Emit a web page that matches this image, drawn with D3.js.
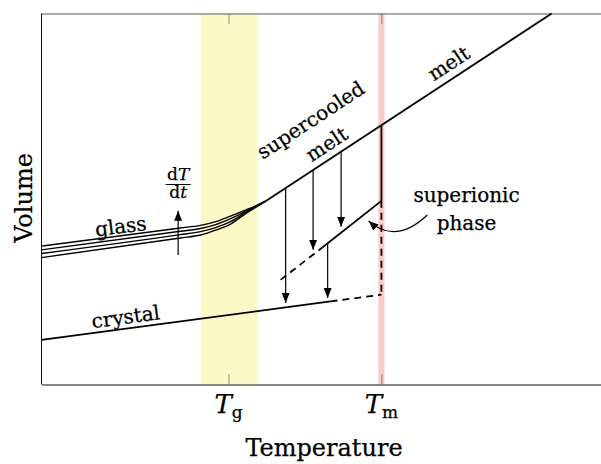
<!DOCTYPE html>
<html>
<head>
<meta charset="utf-8">
<script src="https://cdn.jsdelivr.net/npm/d3@7"></script>
<style>
  body { margin: 0; background: #fff; }
  svg { display: block; font-family: "DejaVu Serif", serif; }
  svg text { fill: #000; stroke: #000; stroke-width: 0.25; }
  .curve { fill: none; stroke: #000; stroke-width: 1.8; }
  .glass { stroke-width: 1.4; }
  .dash { stroke-dasharray: 7 5; }
  .arrow { fill: none; stroke: #000; stroke-width: 1.2; }
  .lbl { font-size: 20px; }
</style>
</head>
<body>
<svg width="601" height="464"></svg>
<script>
// characteristic temperatures and their shaded bands (x units)
const tg = 33.4, tm = 60.7;
const glassBand = [28.4, 38.6];
const meltBand = [60.15, 61.25];

// glass curves for four cooling rates
const glassT = [0, 24.8, 28.4, 31.1, 33.75, 36.4, 38.6, 40];
const glassV = [
    [37.3, 42.2, 42.9, 43.9, 45.4, 47.0, 48.4, 49.4],
    [36.3, 41.3, 42.05, 43.1, 44.7, 46.65, 48.25, 49.4],
    [35.3, 40.4, 41.2, 42.3, 43.9, 46.3, 48.15, 49.4],
    [34.2, 39.5, 40.3, 41.6, 43.25, 46.0, 48.05, 49.4]
];

// (supercooled) melt
const meltT = [40, 91.1];
const meltV = [49.4, 100];

// crystal, solid then dashed to Tm
const crystalT = [0, 51.6];
const crystalV = [12.0, 22.4];
const crystalDashT = [51.6, tm];
const crystalDashV = [22.4, 24.2];

// superionic phase
const superT = [50.2, tm];
const superV = [37.0, 49.5];
const superDashT = [42.7, 50.2];
const superDashV = [28.2, 37.0];

// jumps at Tm
const tmSolidV = [69.9, 49.5];
const tmDashV = [49.5, 24.2];

// crystallisation arrows: [T, from V, to V]
const drops = [
    [43.6, 52.9, 22.0],
    [48.5, 57.8, 36.3],
    [53.5, 62.8, 42.5],
    [51.1, 38.1, 23.3]
];

// cooling rate arrow
const rateArrow = [24.4, 34.9, 46.8];

// curved pointer to the superionic line: start, control, end
const pointer = [[68.9, 45.7], [63.2, 37.6], [58.4, 44.1]];

// labels: [text, T, V, rotation]
const labels = [
    ['glass', 14.3, 40.8, -7.3],
    ['crystal', 15.2, 16.4, -7.6],
    ['supercooled', 48.75, 69.7, -33.3],
    ['melt', 51.6, 63.2, -33.3],
    ['melt', 73.4, 85.0, -33.3],
    ['superionic', 75.9, 49.2, 0],
    ['phase', 75.9, 41.6, 0]
];

var svg = d3.select('svg');
var x = d3.scaleLinear().domain([0, 100]).range([41.5, 601.5]);
var y = d3.scaleLinear().domain([0, 100]).range([384.5, 13.5]);

var defs = svg.append('defs');
defs.append('marker')
    .attr('id', 'head')
    .attr('viewBox', '0 0 10 8')
    .attr('refX', 10).attr('refY', 4)
    .attr('markerWidth', 10).attr('markerHeight', 8)
    .attr('markerUnits', 'userSpaceOnUse')
    .attr('orient', 'auto')
    .append('path').attr('d', 'M0,0L10,4L0,8z').attr('fill', '#000');

// bands
svg.append('rect')
    .attr('x', x(glassBand[0])).attr('y', y(100))
    .attr('width', x(glassBand[1]) - x(glassBand[0]))
    .attr('height', y(0) - y(100))
    .attr('fill', '#fcf9c6');
svg.append('rect')
    .attr('x', x(meltBand[0])).attr('y', y(100))
    .attr('width', x(meltBand[1]) - x(meltBand[0]))
    .attr('height', y(0) - y(100))
    .attr('fill', '#fbcaca');

// axes with inward ticks
var bottomAxis = svg.append('g')
    .attr('transform', 'translate(0,' + y(0) + ')')
    .call(d3.axisBottom(x).tickValues([tg, tm]).tickSize(-10.5).tickSizeOuter(0).tickFormat(''));
var topAxis = svg.append('g')
    .attr('transform', 'translate(0,' + y(100) + ')')
    .call(d3.axisTop(x).tickValues([tg, tm]).tickSize(-10.5).tickSizeOuter(0).tickFormat(''));
svg.selectAll('.tick line').attr('stroke', '#888');
bottomAxis.select('.domain').attr('stroke', '#111');
topAxis.select('.domain').attr('stroke', '#555');
svg.append('line')
    .attr('x1', x(0)).attr('x2', x(0))
    .attr('y1', y(0)).attr('y2', y(100))
    .attr('stroke', '#111');

// tick labels T_g, T_m
[[tg, 'g'], [tm, 'm']].forEach(function(t) {
    var txt = svg.append('text')
        .attr('x', x(t[0])).attr('y', 412.5)
        .attr('text-anchor', 'middle')
        .style('font-size', '26px');
    txt.append('tspan').style('font-style', 'italic').text('T');
    txt.append('tspan').attr('dy', 5).style('font-size', '17px').text(t[1]);
});

var line = d3.line()
    .x(function(d) {return x(d[0]);})
    .y(function(d) {return y(d[1]);});
var smooth = d3.line()
    .curve(d3.curveMonotoneX)
    .x(function(d) {return x(d[0]);})
    .y(function(d) {return y(d[1]);});
var zip = function(a, b) {return a.map(function(v, i) {return [v, b[i]];});};

glassV.forEach(function(vs) {
    svg.append('path').attr('class', 'curve glass').attr('d', smooth(zip(glassT, vs)));
});
svg.append('path').attr('class', 'curve').attr('d', line(zip(meltT, meltV)));
svg.append('path').attr('class', 'curve').attr('d', line(zip(crystalT, crystalV)));
svg.append('path').attr('class', 'curve dash').attr('d', line(zip(crystalDashT, crystalDashV)));
svg.append('path').attr('class', 'curve').attr('d', line(zip(superT, superV)));
svg.append('path').attr('class', 'curve dash').attr('d', line(zip(superDashT, superDashV)));
svg.append('path').attr('class', 'curve').attr('d', line([[tm, tmSolidV[0]], [tm, tmSolidV[1]]]));
svg.append('path').attr('class', 'curve dash').attr('d', line([[tm, tmDashV[0]], [tm, tmDashV[1]]]));

// arrows
drops.forEach(function(a) {
    svg.append('path').attr('class', 'arrow')
        .attr('marker-end', 'url(#head)')
        .attr('d', line([[a[0], a[1]], [a[0], a[2]]]));
});
svg.append('path').attr('class', 'arrow')
    .attr('marker-end', 'url(#head)')
    .attr('d', line([[rateArrow[0], rateArrow[1]], [rateArrow[0], rateArrow[2]]]));

var p = d3.path();
p.moveTo(x(pointer[0][0]), y(pointer[0][1]));
p.quadraticCurveTo(x(pointer[1][0]), y(pointer[1][1]), x(pointer[2][0]), y(pointer[2][1]));
svg.append('path').attr('class', 'arrow').attr('marker-end', 'url(#head)').attr('d', p.toString());

// dT/dt
var fx = x(rateArrow[0]);
var num = svg.append('text').attr('x', fx).attr('y', 179.5).attr('text-anchor', 'middle').style('font-size', '17px');
num.append('tspan').text('d');
num.append('tspan').style('font-style', 'italic').text('T');
svg.append('line').attr('x1', fx - 12.5).attr('x2', fx + 12.5)
    .attr('y1', 184.5).attr('y2', 184.5).attr('stroke', '#000').attr('stroke-width', 1);
var den = svg.append('text').attr('x', fx).attr('y', 198).attr('text-anchor', 'middle').style('font-size', '17px');
den.append('tspan').text('d');
den.append('tspan').style('font-style', 'italic').text('t');

// curve labels
labels.forEach(function(l) {
    svg.append('text').attr('class', 'lbl')
        .attr('text-anchor', 'middle')
        .attr('transform', 'translate(' + x(l[1]) + ',' + y(l[2]) + ') rotate(' + l[3] + ')')
        .text(l[0]);
});

// axis titles
svg.append('text')
    .attr('x', 324).attr('y', 456)
    .attr('text-anchor', 'middle')
    .style('font-size', '24px')
    .text('Temperature');
svg.append('text')
    .attr('transform', 'translate(32,198) rotate(-90)')
    .attr('text-anchor', 'middle')
    .style('font-size', '24px')
    .text('Volume');
</script>
</body>
</html>
